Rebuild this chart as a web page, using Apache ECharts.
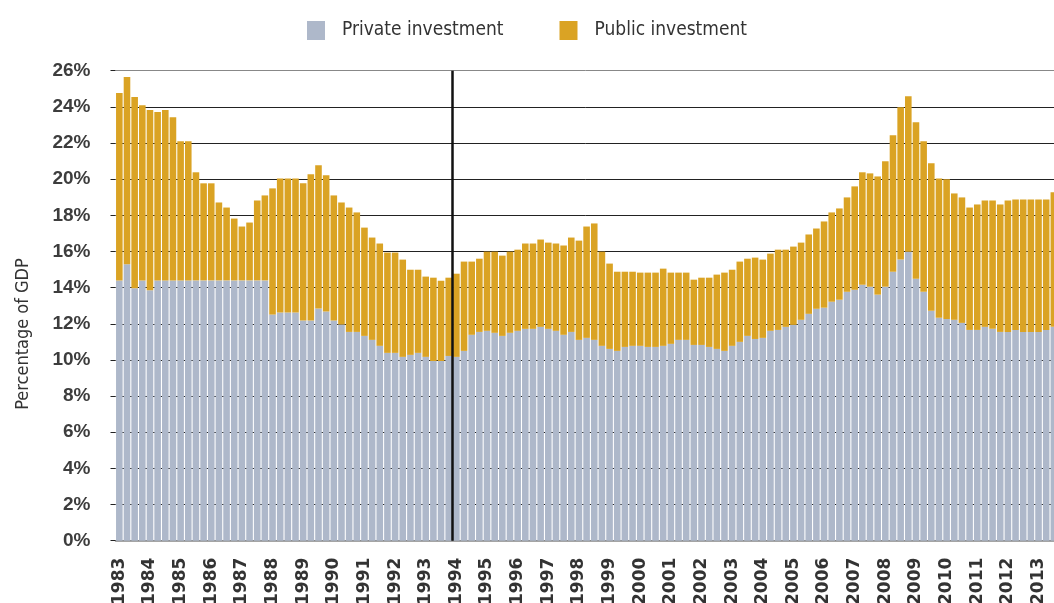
<!DOCTYPE html>
<html><head><meta charset="utf-8">
<script src="https://cdn.jsdelivr.net/npm/echarts@6/dist/echarts.min.js"></script>
<style>html,body{margin:0;padding:0;background:#fff}#c{width:1054px;height:603px}</style>
</head><body><div id="c"></div>
<script>
// Investment as % of GDP, quarterly from 1983Q1
const privateInv = [
14.40,15.29,13.96,14.40,13.85,14.40,14.40,14.40,14.40,14.40,14.40,14.40,14.40,14.40,14.40,14.40,14.40,14.40,14.40,14.40,
12.51,12.63,12.63,12.63,12.18,12.18,12.85,12.68,12.18,11.96,11.55,11.55,11.33,11.11,10.78,10.39,10.39,10.17,10.28,10.39,
10.17,9.94,9.94,10.22,
10.17,10.50,11.39,11.55,11.61,11.50,11.33,11.50,11.61,11.72,11.72,11.83,11.72,11.61,11.39,11.55,
11.11,11.22,11.11,10.78,10.61,10.50,10.72,10.78,10.78,10.72,10.72,10.78,10.89,11.11,11.11,10.83,10.83,10.72,10.61,10.50,
10.78,11.00,11.33,11.16,11.22,11.61,11.66,11.83,11.94,12.22,
12.55,12.83,12.89,13.22,13.33,13.77,13.88,14.16,14.05,13.61,14.05,14.88,15.55,15.99,14.49,13.77,12.72,12.33,12.27,12.22,
12.05,11.66,11.66,11.83,11.72,11.55,11.55,11.66,11.55,11.55,11.55,11.66,11.83
];
const publicInv = [
10.36,10.36,10.58,9.69,9.97,9.31,9.42,9.03,7.70,7.70,5.98,5.37,5.37,4.31,4.03,3.42,2.98,3.20,4.42,4.70,
6.98,7.41,7.41,7.41,7.59,8.09,7.92,7.53,6.92,6.75,6.88,6.61,5.99,5.66,5.66,5.55,5.55,5.38,4.71,4.60,
4.44,4.61,4.44,4.33,
4.60,4.94,4.05,4.05,4.38,4.49,4.44,4.49,4.49,4.72,4.72,4.83,4.77,4.83,4.94,5.22,
5.49,6.16,6.44,5.21,4.72,4.38,4.16,4.10,4.05,4.11,4.11,4.27,3.94,3.72,3.72,3.61,3.72,3.83,4.11,4.33,
4.21,4.44,4.27,4.50,4.33,4.27,4.44,4.27,4.33,4.27,
4.39,4.44,4.77,4.94,5.05,5.22,5.72,6.22,6.27,6.54,6.94,7.55,8.43,8.60,8.66,8.33,8.16,7.71,7.72,6.99,
6.94,6.77,6.94,6.99,7.10,7.05,7.27,7.22,7.33,7.33,7.33,7.22,7.44
];
const firstYear = 1983;
const quarterNames = ['Q1','Q2','Q3','Q4'];
const categories = privateInv.map((_, i) => (firstYear + Math.floor(i / 4)) + quarterNames[i % 4]);
const yTicks = [0,2,4,6,8,10,12,14,16,18,20,22,24,26];
const breakCategory = '1994Q1';
const seriesNames = ['Private investment', 'Public investment'];

const chart = echarts.init(document.getElementById('c'), null, {renderer: 'canvas'});
const N = categories.length;
const band = 7.66;
chart.setOption({
  animation: false,
  backgroundColor: '#fff',
  grid: {left: 115.5, top: 70.7, width: N * band, height: 470, outerBoundsMode: 'none', containLabel: false},
  legend: {
    top: 16, left: 'center', itemWidth: 18, itemHeight: 19, itemGap: 56, icon: 'rect',
    data: seriesNames,
    textStyle: {fontFamily: "'DejaVu Sans Condensed','DejaVu Sans',sans-serif", fontSize: 19, color: '#333', padding: [0,0,0,12]}
  },
  xAxis: [{
    type: 'category', data: categories, boundaryGap: true,
    axisLine: {lineStyle: {color: '#888', width: 1.5}},
    axisTick: {show: false},
    axisLabel: {
      interval: 3, rotate: 90, margin: 17, color: '#333',
      fontFamily: "'DejaVu Sans',sans-serif", fontWeight: 'bold', fontSize: 17,
      formatter: v => v.slice(0, 4)
    },
    splitLine: {show: false}
  }, {
    type: 'value', min: 0, max: N, show: false
  }],
  yAxis: {
    type: 'value', min: yTicks[0], max: yTicks[yTicks.length - 1], interval: 2,
    axisLine: {show: false},
    axisTick: {show: true, length: 5, lineStyle: {color: '#222'}},
    axisLabel: {
      formatter: '{value}%', margin: 25, color: '#3d3d3d',
      fontFamily: "'Liberation Sans','Arial',sans-serif", fontWeight: 'bold', fontSize: 19
    },
    splitLine: {lineStyle: {color: ['#888','#222','#222','#222','#222','#222','#222','#222','#222','#222','#222','#222','#222','#888'], width: 1}}
  },
  graphic: [{
    type: 'text', rotation: Math.PI / 2, x: 23, y: 334,
    style: {text: 'Percentage of GDP', fill: '#333', font: "18px 'DejaVu Sans Condensed', 'DejaVu Sans', sans-serif", textAlign: 'center', textVerticalAlign: 'middle'}
  }],
  series: [{
    name: seriesNames[0], type: 'bar', stack: 'inv', data: privateInv,
    barCategoryGap: '14%', itemStyle: {color: '#aeb8ca'}
  }, {
    name: seriesNames[1], type: 'bar', stack: 'inv', data: publicInv,
    barCategoryGap: '14%', itemStyle: {color: '#daa324'}
  }, {
    name: 'break', type: 'line', xAxisIndex: 1, data: [], z: 10,
    markLine: {
      silent: true, symbol: 'none', label: {show: false},
      lineStyle: {color: '#111', width: 2.5, type: 'solid'},
      data: [{xAxis: categories.indexOf(breakCategory)}]
    }
  }]
});
</script></body></html>
